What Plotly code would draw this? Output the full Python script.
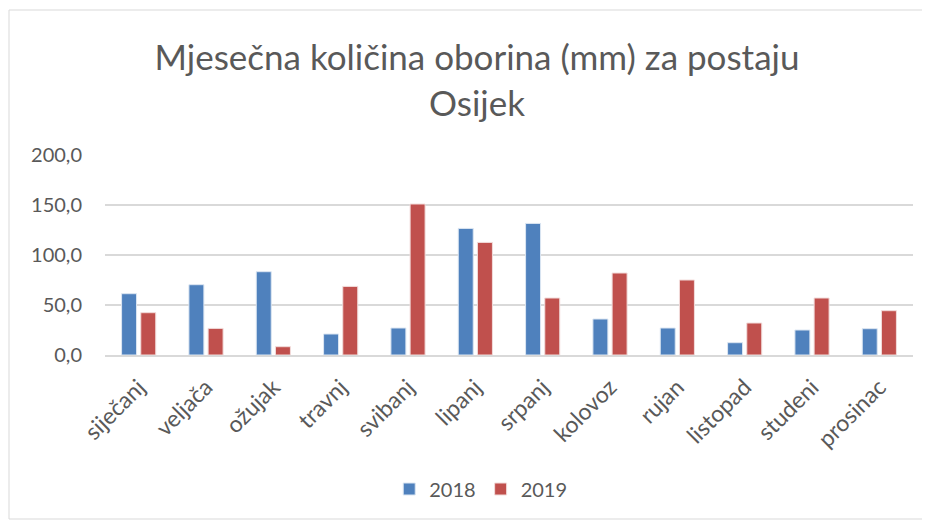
import plotly.graph_objects as go

months = ["siječanj", "veljača", "ožujak", "travnj", "svibanj", "lipanj",
          "srpanj", "kolovoz", "rujan", "listopad", "studeni", "prosinac"]
y2018 = [61.3, 70.3, 83.3, 21.0, 27.0, 126.6, 131.6, 36.0, 27.0, 12.3, 25.0, 26.3]
y2019 = [42.3, 26.6, 8.3, 68.6, 151.0, 112.6, 57.0, 82.0, 75.0, 32.0, 57.0, 44.3]

FONT = "Lato, 'Open Sans', sans-serif"
GREY = "#595959"

# page body adds an 8px offset; figure is sized/positioned to compensate
W, H = 922, 512

fig = go.Figure()
fig.add_trace(go.Bar(name="2018", x=months, y=y2018,
                     marker=dict(color="#4F81BD", line=dict(color="#DCE6F2", width=1))))
fig.add_trace(go.Bar(name="2019", x=months, y=y2019,
                     marker=dict(color="#C0504D", line=dict(color="#F2DCDB", width=1))))

fig.update_layout(
    width=W, height=H,
    margin=dict(l=97, r=17, t=147, b=165, autoexpand=False),
    paper_bgcolor="white", plot_bgcolor="white",
    separators=",.",
    barmode="group", bargap=0.43, bargroupgap=0.22,
    font=dict(family=FONT, color=GREY, size=20),
    title=dict(text="Mjesečna količina oborina (mm) za postaju<br>Osijek",
               x=469 / W, xanchor="center", xref="container",
               y=1 - 62 / H, yanchor="top", yref="container",
               font=dict(family=FONT, size=35, color=GREY)),
    showlegend=True,
    legend=dict(orientation="h", x=0.465, xanchor="center", y=-0.67, yanchor="middle",
                font=dict(size=20, color=GREY), itemwidth=30, traceorder="normal"),
    xaxis=dict(tickangle=-45, showgrid=False, showline=True, linecolor="#D9D9D9",
               linewidth=1.5, ticks="", ticklabelstandoff=8,
               tickfont=dict(size=23, color=GREY)),
    yaxis=dict(range=[0, 200], dtick=50, tickformat=".1f", showgrid=True,
               gridcolor="#D9D9D9", gridwidth=1.5, zeroline=False, showline=False,
               ticks="outside", ticklen=12, tickcolor="rgba(0,0,0,0)",
               ticklabelstandoff=6,
               tickfont=dict(size=20, color=GREY)),
    shapes=[dict(type="rect", xref="paper", yref="paper",
                 x0=(9 - 105) / 808, x1=(925 - 105) / 808,
                 y0=(355 - 519) / 200, y1=(355 - 10) / 200,
                 line=dict(color="#D9D9D9", width=1), fillcolor="rgba(0,0,0,0)",
                 layer="below")],
)

fig.write_html("out.html")
